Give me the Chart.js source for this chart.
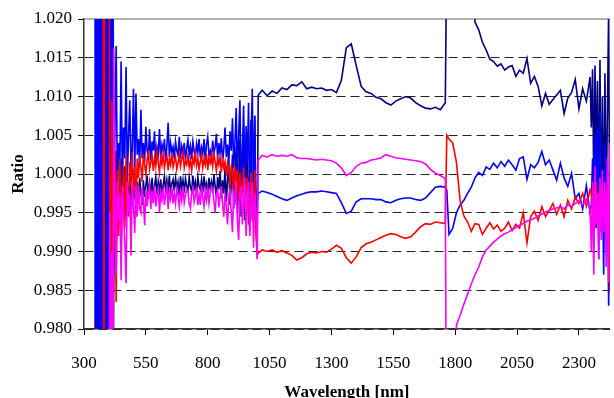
<!DOCTYPE html>
<html>
<head>
<meta charset="utf-8">
<script src="https://cdn.jsdelivr.net/npm/chart.js@4.4.1/dist/chart.umd.min.js"></script>
<style>
  html, body { margin: 0; padding: 0; background: #fff; }
  canvas { display: block; }
</style>
</head>
<body>
<canvas id="ratioChart" width="614" height="398"></canvas>
<script>
// Wavelength grid (nm), shared by all four ratio curves
const wavelength = [
  344, 348, 352, 356, 360, 364, 368, 372, 376, 380, 384, 388, 392, 396, 400, 404, 408, 412, 416,
  420, 425, 430, 435, 440, 445, 450, 455, 460, 465,
  470, 475, 480, 485, 490, 495, 500, 505, 510, 515,
  520, 525, 530, 535, 540, 545, 550, 555, 560, 565,
  570, 575, 580, 585, 590, 595, 600, 605, 610, 615,
  620, 625, 630, 635, 640, 645, 650, 655, 660, 665,
  670, 675, 680, 685, 690, 695, 700, 705, 710, 715,
  720, 725, 730, 735, 740, 745, 750, 755, 760, 765,
  770, 775, 780, 785, 790, 795, 800, 805, 810, 815,
  820, 825, 830, 835, 840, 845, 850, 855, 860, 865,
  870, 875, 880, 885, 890, 895, 900, 905, 910, 915,
  920, 925, 930, 935, 940, 945, 950, 955, 960, 965,
  970, 975, 980, 985, 990, 995, 1000,
  1004, 1020, 1040, 1060, 1080, 1100, 1120, 1140, 1160, 1180, 1200, 1220, 1240, 1260, 1280, 1300,
  1320, 1340, 1360, 1380, 1400, 1420, 1440, 1460, 1480, 1500, 1520, 1540, 1560, 1580, 1600, 1620,
  1640, 1660, 1680, 1700, 1720, 1740, 1760,
  1766,
  1775, 1790, 1805, 1820, 1835, 1850, 1865, 1880, 1895, 1910, 1925, 1940, 1955, 1970, 1985, 2000,
  2015, 2030, 2045, 2060, 2075, 2090, 2105, 2120, 2135, 2150, 2165, 2180, 2195, 2210, 2225, 2240,
  2255, 2270, 2285, 2300, 2315, 2330, 2345,
  2350, 2355, 2360, 2365, 2370, 2375, 2380, 2385, 2390, 2395, 2400, 2405, 2410, 2415, 2420, 2425
];

const navyRatio = [
  0.95, 1.05, 0.95, 1.05, 0.95, 1.05, 0.95, 1.05, 0.95, 1.05, 0.95, 1.05, 0.95, 1.05, 0.95, 1.05, 0.95, 1.05, 0.95,
  0.9850, 0.9990, 1.0030, 0.9960, 0.9935, 1.0005, 1.0020, 0.9950, 0.9975, 1.0010,
  0.9945, 0.9990, 0.9960, 1.0000, 0.9950, 0.9985, 0.9965, 1.0000, 0.9955, 0.9990,
  0.9965, 0.9995, 0.9975, 0.9960, 0.9992, 0.9970, 0.9985, 0.9998, 0.9968, 0.9988,
  0.9975, 0.9995, 0.9972, 0.9984, 0.9996, 0.9974, 0.9990, 0.9978, 0.9993, 0.9970,
  0.9986, 0.9997, 0.9976, 0.9992, 0.9980, 0.9998, 0.9975, 0.9988, 0.9993, 0.9978,
  0.9995, 0.9982, 0.9990, 0.9972, 0.9997, 0.9980, 0.9992, 0.9976, 0.9994, 0.9985,
  0.9979, 0.9996, 0.9983, 0.9977, 0.9998, 0.9981, 0.9990, 0.9974, 0.9996, 0.9984,
  0.9980, 0.9993, 0.9976, 0.9997, 0.9982, 0.9988, 0.9973, 0.9995, 0.9981, 0.9990,
  0.9976, 0.9999, 0.9984, 0.9970, 0.9996, 0.9980, 1.0004, 0.9968, 0.9992, 0.9975,
  1.0008, 0.9965, 0.9990, 1.0015, 0.9960, 0.9985, 1.0025, 0.9955, 1.0000, 1.0035,
  0.9950, 0.9990, 1.0045, 0.9945, 1.0010, 1.0060, 0.9940, 0.9985, 1.0050, 0.9935,
  1.0000, 1.0070, 0.9940, 0.9980, 1.0075, 0.9930, 0.9925,
  1.0102, 1.0108, 1.0101, 1.0107, 1.0104, 1.0111, 1.0109, 1.0115, 1.0114, 1.0119,
  1.0110, 1.0112, 1.0110, 1.0111, 1.0108, 1.0109, 1.0105, 1.0121, 1.0163, 1.0168,
  1.0140, 1.0113, 1.0106, 1.0104, 1.0099, 1.0097, 1.0092, 1.0089, 1.0094, 1.0097,
  1.0100, 1.0098, 1.0092, 1.0088, 1.0085, 1.0084, 1.0086, 1.0083, 1.0092,
  1.03,
  1.03, 1.03, 1.03, 1.03, 1.03, 1.03, 1.03, 1.0196, 1.0186, 1.0170,
  1.0160, 1.0148, 1.0145, 1.0139, 1.0142, 1.0134, 1.0138, 1.0140, 1.0126, 1.0134,
  1.0130, 1.0149, 1.0117, 1.0126, 1.0113, 1.0088, 1.0104, 1.0090, 1.0096, 1.0102,
  1.0108, 1.0078, 1.0098, 1.0105, 1.0122, 1.0084, 1.0110, 1.0094, 1.0125,
  1.0060, 1.0135, 0.9990, 1.0140, 1.0010, 1.0120, 0.9960, 1.0147, 0.9940, 1.0100, 0.9920, 1.0130, 0.9950, 1.0080, 1.0210, 0.9860
];

const blueRatio = [
  1.05, 0.95, 1.05, 0.95, 1.05, 0.95, 1.05, 0.95, 1.05, 0.95, 1.05, 0.95, 1.05, 0.95, 1.05, 0.95, 1.05, 0.95, 1.05,
  0.9930, 1.0060, 1.0165, 0.9975, 1.0040, 1.0010, 1.0145, 0.9985, 1.0060, 1.0020,
  1.0138, 0.9990, 1.0050, 1.0095, 1.0005, 1.0030, 1.0110, 1.0000, 1.0104, 1.0025,
  1.0045, 1.0010, 1.0083, 1.0020, 1.0040, 1.0015, 1.0061, 1.0030, 1.0022, 1.0058,
  1.0018, 1.0042, 1.0030, 1.0055, 1.0012, 1.0035, 1.0026, 1.0058, 1.0020, 1.0038,
  1.0030, 1.0045, 1.0016, 1.0036, 1.0066, 1.0022, 1.0040, 1.0028, 1.0035, 1.0019,
  1.0042, 1.0030, 1.0024, 1.0048, 1.0020, 1.0036, 1.0027, 1.0040, 1.0018, 1.0033,
  1.0044, 1.0025, 1.0036, 1.0019, 1.0042, 1.0030, 1.0022, 1.0039, 1.0028, 1.0045,
  1.0021, 1.0034, 1.0026, 1.0045, 1.0017, 1.0038, 1.0048, 1.0024, 1.0030, 1.0020,
  1.0043, 1.0027, 1.0035, 1.0052, 1.0019, 1.0040, 1.0025, 1.0046, 1.0015, 1.0033,
  1.0060, 1.0022, 1.0038, 1.0012, 1.0055, 1.0030, 1.0072, 1.0008, 1.0041, 1.0085,
  0.9998, 1.0050, 1.0095, 0.9985, 1.0030, 1.0088, 0.9975, 1.0062, 1.0015, 1.0092,
  0.9960, 1.0040, 1.0110, 0.9950, 1.0075, 0.9935, 0.9965,
  0.9975, 0.9978, 0.9976, 0.9974, 0.9971, 0.9968, 0.9966, 0.9969, 0.9972, 0.9974,
  0.9976, 0.9977, 0.9977, 0.9978, 0.9977, 0.9976, 0.9975, 0.9963, 0.9949, 0.9952,
  0.9964, 0.9968, 0.9968, 0.9968, 0.9967, 0.9967, 0.9964, 0.9963, 0.9966, 0.9968,
  0.9969, 0.9969, 0.9967, 0.9966, 0.9969, 0.9976, 0.9983, 0.9984, 0.9983,
  0.9979,
  0.9922, 0.9930, 0.9950, 0.9960, 0.9966, 0.9975, 0.9983, 0.9995, 1.0002, 0.9998,
  1.0009, 1.0006, 1.0014, 1.0008, 1.0016, 1.0010, 1.0018, 1.0012, 1.0005, 1.0020,
  1.0022, 0.9993, 1.0012, 1.0008, 1.0015, 1.0029, 1.0012, 1.0018, 1.0005, 0.9992,
  1.0014, 0.9995, 0.9984, 1.0001, 0.9968, 0.9975, 0.9955, 0.9985, 0.9950,
  0.9960, 1.0020, 0.9905, 1.0050, 0.9930, 1.0060, 0.9890, 1.0080, 0.9950, 0.9990, 0.9870, 1.0040, 0.9900, 1.0010, 0.9830, 0.9980
];

const redRatio = [
  1.05, 1.05, 1.05, 1.05, 1.05, 1.05, 1.05, 1.05, 1.05, 0.95, 1.05, 1.05, 1.05, 1.05, 1.05, 0.995, 0.9855, 1.0095, 0.9832,
  0.9935, 1.0030, 0.9835, 1.0005, 0.9920, 1.0020, 0.9890, 0.9975, 1.0010, 0.9930,
  1.0025, 0.9960, 0.9945, 1.0015, 0.9985, 1.0028, 0.9975, 1.0010, 0.9945, 1.0020,
  0.9995, 1.0022, 1.0008, 0.9990, 1.0026, 1.0012, 1.0000, 1.0018, 1.0030, 1.0006,
  1.0015, 1.0024, 1.0004, 1.0020, 1.0010, 1.0028, 1.0014, 1.0002, 1.0022, 1.0012,
  1.0026, 1.0008, 1.0018, 1.0023, 1.0005, 1.0020, 1.0012, 1.0027, 1.0009, 1.0016,
  1.0022, 1.0006, 1.0014, 1.0025, 1.0010, 1.0019, 1.0028, 1.0008, 1.0017, 1.0012,
  1.0024, 1.0009, 1.0018, 1.0004, 1.0021, 1.0013, 1.0027, 1.0011, 1.0020, 1.0006,
  1.0016, 1.0025, 1.0008, 1.0019, 1.0012, 1.0026, 1.0005, 1.0021, 1.0014, 1.0024,
  1.0010, 1.0026, 1.0016, 1.0004, 1.0020, 1.0012, 1.0022, 1.0002, 1.0018, 1.0008,
  1.0016, 0.9998, 1.0014, 1.0006, 0.9985, 1.0012, 1.0000, 0.9975, 1.0010, 0.9990,
  1.0005, 0.9968, 1.0002, 0.9960, 0.9990, 1.0008, 0.9955, 0.9985, 0.9995, 0.9948,
  0.9930, 1.0002, 0.9965, 0.9940, 1.0005, 0.9920, 0.9895,
  0.9898, 0.9902, 0.9900, 0.9902, 0.9899, 0.9901, 0.9898, 0.9895, 0.9889, 0.9892,
  0.9897, 0.9899, 0.9898, 0.9900, 0.9899, 0.9903, 0.9908, 0.9904, 0.9892, 0.9885,
  0.9893, 0.9905, 0.9910, 0.9912, 0.9915, 0.9918, 0.9921, 0.9923, 0.9922, 0.9919,
  0.9917, 0.9919, 0.9925, 0.9932, 0.9936, 0.9935, 0.9938, 0.9937, 0.9936,
  1.0050,
  1.0045, 1.0040, 1.0015, 0.9965, 0.9946, 0.9938, 0.9926, 0.9936, 0.9935, 0.9922,
  0.9930, 0.9937, 0.9929, 0.9934, 0.9926, 0.9930, 0.9938, 0.9927, 0.9935, 0.9930,
  0.9950, 0.9911, 0.9945, 0.9952, 0.9940, 0.9958, 0.9945, 0.9953, 0.9962, 0.9948,
  0.9960, 0.9945, 0.9966, 0.9955, 0.9970, 0.9962, 0.9975, 0.9958, 0.9980,
  0.9975, 0.9950, 0.9985, 0.9930, 0.9990, 0.9940, 0.9975, 0.9925, 0.9985, 0.9950, 0.9970, 0.9935, 0.9980, 0.9945, 0.9965, 0.9850
];

const magentaRatio = [
  0.95, 0.95, 0.95, 0.95, 0.95, 0.95, 0.95, 0.95, 0.95, 0.95, 0.95, 0.95, 0.95, 0.95, 0.95, 0.995, 0.95, 0.990, 0.95,
  1.0162, 0.9930, 0.9870, 0.9990, 0.9940, 0.9975, 0.9863, 0.9985, 0.9950, 0.9910,
  0.9859, 0.9990, 0.9950, 0.9975, 0.9895, 0.9990, 0.9960, 0.9924, 0.9985, 0.9945,
  0.9985, 0.9955, 0.9950, 0.9983, 0.9965, 0.9934, 0.9980, 0.9958, 0.9975, 0.9985,
  0.9955, 0.9978, 0.9962, 0.9985, 0.9958, 0.9972, 0.9980, 0.9950, 0.9976, 0.9966,
  0.9982, 0.9960, 0.9974, 0.9984, 0.9955, 0.9977, 0.9968, 0.9983, 0.9962, 0.9975,
  0.9962, 0.9981, 0.9970, 0.9958, 0.9979, 0.9966, 0.9984, 0.9963, 0.9973, 0.9980,
  0.9977, 0.9962, 0.9956, 0.9975, 0.9982, 0.9964, 0.9972, 0.9980, 0.9960, 0.9974,
  0.9960, 0.9985, 0.9970, 0.9958, 0.9978, 0.9966, 0.9980, 0.9962, 0.9975, 0.9984,
  0.9981, 0.9965, 0.9950, 0.9975, 0.9979, 0.9957, 0.9972, 0.9984, 0.9960, 0.9945,
  0.9975, 0.9958, 0.9935, 0.9972, 0.9980, 0.9950, 0.9925, 0.9978, 0.9960, 0.9990,
  0.9940, 0.9915, 0.9975, 0.9985, 0.9935, 0.9965, 0.9995, 0.9920, 0.9970, 0.9990,
  0.9920, 0.9960, 0.9990, 0.9905, 0.9975, 0.9950, 0.9890,
  1.0018, 1.0024, 1.0022, 1.0025, 1.0023, 1.0024, 1.0023, 1.0025, 1.0021, 1.0020,
  1.0020, 1.0019, 1.0018, 1.0019, 1.0018, 1.0017, 1.0014, 1.0008, 0.9998, 1.0002,
  1.0010, 1.0014, 1.0015, 1.0018, 1.0019, 1.0021, 1.0025, 1.0023, 1.0021, 1.0020,
  1.0019, 1.0018, 1.0017, 1.0016, 1.0013, 1.0006, 1.0001, 0.9998, 0.9994,
  0.95,
  0.95, 0.95, 0.9805, 0.9818, 0.9832, 0.9845, 0.9858, 0.9870, 0.9880, 0.9893,
  0.9902, 0.9907, 0.9912, 0.9916, 0.9920, 0.9923, 0.9925, 0.9928, 0.9931, 0.9934,
  0.9936, 0.9939, 0.9941, 0.9943, 0.9946, 0.9948, 0.9951, 0.9953, 0.9955, 0.9956,
  0.9958, 0.9955, 0.9960, 0.9958, 0.9962, 0.9965, 0.9960, 0.9968, 0.9955,
  0.9900, 0.9990, 0.9870, 1.0010, 0.9935, 0.9975, 0.9890, 0.9995, 0.9915, 1.0005, 0.9925, 0.9990, 0.9880, 1.0020, 0.9860, 1.0040
];

// Axis ticks
const xTicks = [300, 550, 800, 1050, 1300, 1550, 1800, 2050, 2300];
const yTicks = [0.980, 0.985, 0.990, 0.995, 1.000, 1.005, 1.010, 1.015, 1.020];

const toPoints = (values) => values.map((v, i) => ({ x: wavelength[i], y: v }));

const serif = "'Liberation Serif', 'Times New Roman', serif";

// Solid grey frame line along the top of the plot area
const topFrame = {
  id: "topFrame",
  beforeDatasetsDraw(chart) {
    const { ctx, chartArea } = chart;
    ctx.save();
    ctx.strokeStyle = "#9a9a9a";
    ctx.lineWidth = 1.5;
    ctx.beginPath();
    ctx.moveTo(chartArea.left, chartArea.top);
    ctx.lineTo(chartArea.right, chartArea.top);
    ctx.stroke();
    ctx.restore();
  },
};

const lineSet = (values, color, order) => ({
  data: toPoints(values),
  borderColor: color,
  borderWidth: 1.6,
  pointRadius: 0,
  tension: 0,
  fill: false,
  clip: 0,
  order: order,
});

new Chart(document.getElementById("ratioChart").getContext("2d"), {
  type: "line",
  data: {
    datasets: [
      lineSet(navyRatio, "#000080", 3),
      lineSet(blueRatio, "#0000ff", 2),
      lineSet(redRatio, "#ff0000", 1),
      lineSet(magentaRatio, "#ff00ff", 0),
    ],
  },
  options: {
    responsive: false,
    animation: false,
    devicePixelRatio: 1,
    layout: {
      padding: { top: 19, right: 1, left: 0, bottom: 0 },
    },
    plugins: {
      legend: { display: false },
      tooltip: { enabled: false },
    },
    scales: {
      x: {
        type: "linear",
        min: 300,
        max: 2425,
        afterBuildTicks: (scale) => {
          scale.ticks = xTicks.map((v) => ({ value: v }));
        },
        afterFit: (scale) => {
          scale.height = 69;
        },
        grid: {
          drawOnChartArea: false,
          drawTicks: true,
          tickLength: 6,
          tickColor: "#000",
          tickWidth: 1,
        },
        border: { color: "#333", width: 1.5 },
        ticks: {
          color: "#000",
          padding: 18,
          maxRotation: 0,
          autoSkip: false,
          callback: (value) => String(value),
          font: { family: serif, size: 17 },
        },
        title: {
          display: true,
          text: "Wavelength [nm]",
          color: "#000",
          font: { family: serif, size: 17, weight: "bold", lineHeight: 1 },
          padding: { top: 0, bottom: -3 },
        },
      },
      y: {
        min: 0.98,
        max: 1.02,
        afterBuildTicks: (scale) => {
          scale.ticks = yTicks.map((v) => ({ value: v }));
        },
        afterFit: (scale) => {
          scale.width = 84;
        },
        grid: {
          color: (ctx) =>
            ctx.tick && Math.abs(ctx.tick.value - 1.02) < 1e-9 ? "rgba(0,0,0,0)" : "#222",
          lineWidth: 1,
          tickLength: 6,
          tickColor: "#000",
        },
        border: { color: "#333", width: 1.5, dash: [9, 5] },
        ticks: {
          color: "#000",
          padding: 6,
          callback: (value) => value.toFixed(3),
          font: { family: serif, size: 17 },
        },
        title: {
          display: true,
          text: "Ratio",
          color: "#000",
          font: { family: serif, size: 17, weight: "bold", lineHeight: 1 },
          padding: { top: 10, bottom: 0 },
        },
      },
    },
  },
  plugins: [topFrame],
});
</script>
</body>
</html>
